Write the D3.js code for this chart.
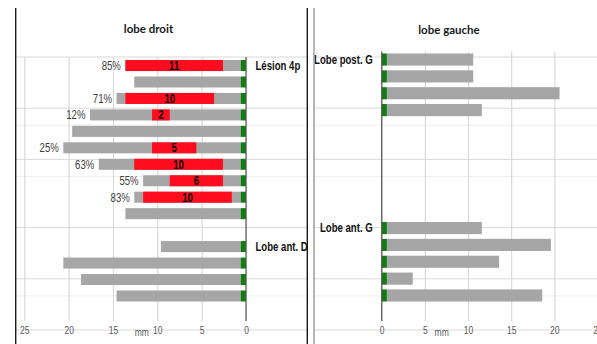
<!DOCTYPE html>
<html>
<head>
<meta charset="utf-8">
<script src="https://cdn.jsdelivr.net/npm/d3@7"></script>
<style>
  html, body { margin: 0; padding: 0; background: #fff; }
  svg { display: block; }
  text { font-family: "Liberation Sans", Arial, sans-serif; }
  text.title { font-family: Lato, "Open Sans", sans-serif; font-weight: bold; font-size: 11.5px; fill: #1a1a1a; }
</style>
</head>
<body>
<svg id="chart" width="597" height="344"></svg>
<script>
// ---- data -------------------------------------------------------------
// Right lobe ("lobe droit"): one entry per row, top to bottom (null = spacer row)
const droitTotals      = [13, 12, 14, 17, 19, 20, 16, 11, 12, 13, null, 9, 20, 18, 14];
const droitLesionStart = [2, null, 3, 8, null, 5, 2, 2, 1, null, null, null, null, null, null];
const droitLesion      = [11, null, 10, 2, null, 5, 10, 6, 10, null, null, null, null, null, null];
const droitGroupRows   = [0, 11];
const droitGroupNames  = ["Lésion 4p", "Lobe ant. D"];

// Left lobe ("lobe gauche")
const gaucheTotals     = [10, 10, 20, 11, null, null, null, null, null, null, 11, 19, 13, 3, 18];
const gaucheGroupRows  = [0, 10];
const gaucheGroupNames = ["Lobe post. G", "Lobe ant. G"];

// small marker segment drawn at the origin of every bar (mm)
const markerLength = 0.6;

// axis ticks (mm) and background grid rows
const xTicks = [0, 5, 10, 15, 20, 25];
const gridMajor = [0, 3, 6, 10, 13, 16];
const gridMinor = [4, 7, 14];

const panelTitles = ["lobe droit", "lobe gauche"];
const unitLabel = "mm";

// ---- styles -----------------------------------------------------------
const C = {
  grey: "#a6a6a6",
  red: "#ff0d1f",
  green: "#117d11",
  grid: "#d9d9d9",
  gridMinor: "#efefef",
  axis: "#595959",
  tick: "#595959",
  text: "#111"
};
const NARROW = 0.8;   // horizontal squeeze for the condensed label face

const svg = d3.select("#chart");
const rowIds = d3.range(droitTotals.length);

// condensed text placed at (x, y)
function placeText(sel, fx, fy, sx = NARROW) {
  return sel.attr("transform", (d, k) => `translate(${fx(d, k)},${fy(d, k)}) scale(${sx},1)`);
}

// background grid rows shared by both panels
const yFrame = d3.scaleLinear().domain([0, 16]).range([57, 330]);

function frameLines(x1, x2) {
  svg.append("g").selectAll("line").data(gridMinor).join("line")
    .attr("x1", x1).attr("x2", x2)
    .attr("y1", d => yFrame(d)).attr("y2", d => yFrame(d))
    .attr("stroke", C.gridMinor).attr("stroke-width", 1);
  svg.append("g").selectAll("line").data(gridMajor).join("line")
    .attr("x1", x1).attr("x2", x2)
    .attr("y1", d => yFrame(d)).attr("y2", d => yFrame(d))
    .attr("stroke", C.grid).attr("stroke-width", 1);
}

function xAxis(x, gridTop, gridBottom, mmX) {
  const g = svg.append("g").attr("transform", `translate(0,${gridBottom})`)
    .call(d3.axisBottom(x).tickValues(xTicks).tickSize(-(gridBottom - gridTop)).tickPadding(6));
  g.select(".domain").remove();
  g.selectAll(".tick line").attr("stroke", C.grid).attr("stroke-width", 1.2);
  g.selectAll(".tick text")
    .attr("font-family", "Liberation Sans, Arial, sans-serif")
    .attr("font-size", 10).attr("fill", C.tick)
    .attr("transform", "scale(0.85,1)");
  placeText(svg.append("text").datum(0), () => mmX, () => gridBottom + 14.5, 0.85)
    .attr("text-anchor", "middle").attr("font-size", 10).attr("fill", C.tick)
    .text(unitLabel);
}

// ---- panel 1 : lobe droit (bars grow to the left) ----------------------
const xD = d3.scaleLinear().domain([0, 25]).range([246, 24.3]);
const yD = d3.scaleBand().domain(rowIds).range([57.3, 304.2]).paddingInner(0.33).paddingOuter(0.165);

frameLines(16, 307);
xAxis(xD, 57, 321, xD(11.75));

const droitRows = rowIds.filter(i => droitTotals[i] != null).map(i => ({
  i, total: droitTotals[i], start: droitLesionStart[i], lesion: droitLesion[i]
}));

const gD = svg.append("g");
gD.selectAll("rect.total").data(droitRows).join("rect")
  .attr("x", d => xD(markerLength + d.total)).attr("y", d => yD(d.i))
  .attr("width", d => xD(markerLength) - xD(markerLength + d.total))
  .attr("height", yD.bandwidth()).attr("fill", C.grey);

const lesions = droitRows.filter(d => d.lesion != null);
gD.selectAll("rect.lesion").data(lesions).join("rect")
  .attr("x", d => xD(markerLength + d.start + d.lesion)).attr("y", d => yD(d.i))
  .attr("width", d => xD(markerLength + d.start) - xD(markerLength + d.start + d.lesion))
  .attr("height", yD.bandwidth()).attr("fill", C.red);

gD.selectAll("rect.marker").data(droitRows).join("rect")
  .attr("x", xD(markerLength)).attr("y", d => yD(d.i))
  .attr("width", xD(0) - xD(markerLength)).attr("height", yD.bandwidth()).attr("fill", C.green);

placeText(gD.selectAll("text.val").data(lesions).join("text"),
    d => xD(markerLength + d.start + d.lesion / 2),
    d => yD(d.i) + yD.bandwidth() / 2 + 4.3)
  .attr("text-anchor", "middle").attr("font-size", 12).attr("font-weight", "bold").attr("fill", "#000")
  .text(d => d.lesion);

placeText(gD.selectAll("text.pct").data(lesions).join("text"),
    d => xD(markerLength + d.total) - 4.5,
    d => yD(d.i) + yD.bandwidth() / 2 + 4.3)
  .attr("text-anchor", "end").attr("font-size", 12).attr("fill", "#404040")
  .text(d => Math.round(100 * d.lesion / d.total) + "%");

// value axis line
svg.append("line").attr("x1", xD(0)).attr("x2", xD(0)).attr("y1", 57).attr("y2", 321)
  .attr("stroke", C.axis).attr("stroke-width", 1.2);

placeText(svg.append("g").selectAll("text").data(droitGroupRows).join("text"),
    () => xD(0) + 9.5,
    d => yD(d) + yD.bandwidth() / 2 + 4.3)
  .attr("font-size", 12).attr("font-weight", "bold").attr("fill", C.text)
  .text((d, k) => droitGroupNames[k]);

svg.append("text").attr("class", "title").attr("x", 148.5).attr("y", 33)
  .attr("text-anchor", "middle").text(panelTitles[0]);

// ---- panel 2 : lobe gauche (bars grow to the right) --------------------
const xG = d3.scaleLinear().domain([0, 25]).range([381.7, 597.5]);
const yG = d3.scaleBand().domain(rowIds).range([51.1, 303.9]).paddingInner(0.28).paddingOuter(0.14);

frameLines(314, 597);
xAxis(xG, 51.5, 321, xG(6.95));

const gaucheRows = rowIds.filter(i => gaucheTotals[i] != null).map(i => ({ i, total: gaucheTotals[i] }));
const gG = svg.append("g");
gG.selectAll("rect.total").data(gaucheRows).join("rect")
  .attr("x", xG(markerLength)).attr("y", d => yG(d.i))
  .attr("width", d => xG(markerLength + d.total) - xG(markerLength))
  .attr("height", yG.bandwidth()).attr("fill", C.grey);
gG.selectAll("rect.marker").data(gaucheRows).join("rect")
  .attr("x", xG(0)).attr("y", d => yG(d.i))
  .attr("width", xG(markerLength) - xG(0)).attr("height", yG.bandwidth()).attr("fill", C.green);

svg.append("line").attr("x1", xG(0)).attr("x2", xG(0)).attr("y1", 51.5).attr("y2", 321)
  .attr("stroke", C.axis).attr("stroke-width", 1.2);

placeText(svg.append("g").selectAll("text").data(gaucheGroupRows).join("text"),
    () => xG(0) - 9,
    d => yG(d) + yG.bandwidth() / 2 + 4.3)
  .attr("text-anchor", "end")
  .attr("font-size", 12).attr("font-weight", "bold").attr("fill", C.text)
  .text((d, k) => gaucheGroupNames[k]);

svg.append("text").attr("class", "title").attr("x", 449).attr("y", 34)
  .attr("text-anchor", "middle").text(panelTitles[1]);

// ---- panel borders ----------------------------------------------------
[[15.7, "#1a1a1a"], [307.3, "#1a1a1a"], [314, "#9a9a9a"]].forEach(([x, c]) => {
  svg.append("line").attr("x1", x).attr("x2", x).attr("y1", 8).attr("y2", 344)
    .attr("stroke", c).attr("stroke-width", 1.4);
});
</script>
</body>
</html>
